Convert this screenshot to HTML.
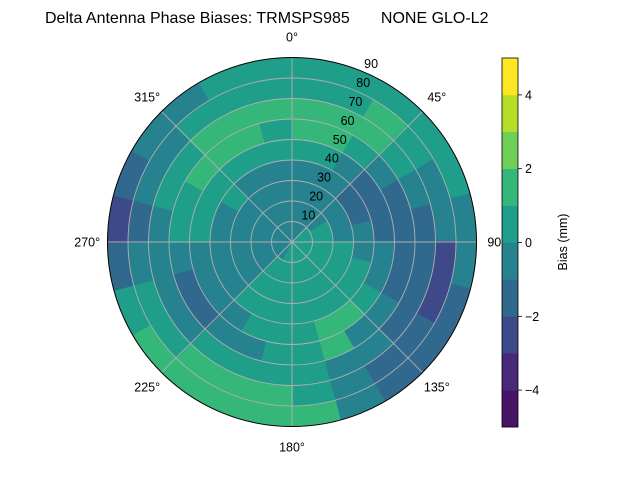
<!DOCTYPE html>
<html><head><meta charset="utf-8"><style>
body{margin:0;background:#fff;}
svg{font-family:"Liberation Sans","DejaVu Sans",sans-serif;}
</style></head><body>
<svg id="chart" width="640" height="480" viewBox="0 0 640 480">
<text x="45" y="23" font-size="16" fill="#000" xml:space="preserve">Delta Antenna Phase Biases: TRMSPS985       NONE GLO-L2</text>
<g id="cells"></g>
<g id="grid"></g>
<circle cx="292" cy="242" r="184.5" fill="none" stroke="#000" stroke-width="1"/>
<g id="labels"></g>
<g id="cbar"></g>
<text transform="translate(567,242) rotate(-90)" text-anchor="middle" font-size="12.5">Bias (mm)</text>
</svg>
<script>
const azCenters=[7.5,22.5,37.5,52.5,67.5,82.5,97.5,112.5,127.5,142.5,157.5,172.5,187.5,202.5,217.5,232.5,247.5,262.5,277.5,292.5,307.5,322.5,337.5,352.5];
const ringCenters=[5,15,25,35,45,55,65,75,85];
const biasGrid=[
[-0.5,-0.5,-0.5,-0.5,0.5,1.5,1.5,0.5,0.5],
[-0.5,-0.5,-0.5,-0.5,0.5,1.5,1.5,0.5,0.5],
[-0.5,-0.5,-0.5,-0.5,-0.5,0.5,1.5,1.5,0.5],
[0.5,-0.5,-0.5,-1.5,-1.5,-0.5,0.5,0.5,0.5],
[0.5,0.5,-0.5,-1.5,-1.5,-1.5,-0.5,-0.5,0.5],
[0.5,0.5,-0.5,-0.5,-1.5,-1.5,-1.5,-0.5,-0.5],
[0.5,0.5,0.5,-0.5,-0.5,-1.5,-1.5,-2.5,-0.5],
[0.5,0.5,0.5,0.5,-0.5,-1.5,-1.5,-2.5,-1.5],
[0.5,0.5,0.5,0.5,0.5,-0.5,-1.5,-1.5,-1.5],
[0.5,0.5,0.5,0.5,1.5,-0.5,-0.5,-1.5,-1.5],
[0.5,0.5,0.5,0.5,1.5,1.5,-0.5,-0.5,-0.5],
[0.5,0.5,0.5,0.5,0.5,0.5,0.5,0.5,1.5],
[0.5,0.5,0.5,0.5,0.5,0.5,0.5,1.5,1.5],
[0.5,0.5,0.5,0.5,0.5,-0.5,0.5,1.5,1.5],
[-0.5,0.5,0.5,0.5,-0.5,-0.5,0.5,1.5,1.5],
[-0.5,-0.5,-0.5,-0.5,-0.5,-1.5,-0.5,0.5,1.5],
[-0.5,-0.5,-0.5,-0.5,-0.5,-1.5,-0.5,0.5,0.5],
[-0.5,-0.5,-0.5,-0.5,-0.5,-0.5,-0.5,-0.5,-1.5],
[-0.5,-0.5,-0.5,-0.5,0.5,0.5,-0.5,-1.5,-2.5],
[-0.5,-0.5,-0.5,-0.5,0.5,0.5,0.5,-0.5,-1.5],
[-0.5,-0.5,-0.5,0.5,0.5,1.5,0.5,-0.5,-0.5],
[-0.5,-0.5,-0.5,-0.5,0.5,1.5,1.5,0.5,-0.5],
[-0.5,-0.5,-0.5,-0.5,0.5,1.5,1.5,0.5,0.5],
[-0.5,-0.5,-0.5,-0.5,0.5,0.5,1.5,0.5,0.5]
];
const levels=[-5,-4,-3,-2,-1,0,1,2,3,4,5];
const levelColors=["#471365","#482878","#3e4989","#31688e","#26828e","#1f9e89","#35b779","#6ece58","#b5de2b","#fde725"];
const cbTicks=[-4,-2,0,2,4];
const rTicks=[10,20,30,40,50,60,70,80,90];
const azTicks=[0,45,90,135,180,225,270,315];

const NS="http://www.w3.org/2000/svg";
const CX=292,CY=242,R=184.5,RMAX=90;
function rScale(v){return v/RMAX*R;}
function pt(az,r){const a=az*Math.PI/180;return [CX+rScale(r)*Math.sin(a),CY-rScale(r)*Math.cos(a)];}
function colorFor(v){for(let i=0;i<levels.length-1;i++){if(v>=levels[i]&&v<levels[i+1])return levelColors[i];}return levelColors[levelColors.length-1];}
function mk(tag,attrs,parent){const e=document.createElementNS(NS,tag);for(const k in attrs)e.setAttribute(k,attrs[k]);parent.appendChild(e);return e;}

const cells=document.getElementById('cells');
const azStep=360/azCenters.length, rStep=RMAX/ringCenters.length;
azCenters.forEach((az,i)=>{ringCenters.forEach((rc,j)=>{
  const a0=az-azStep/2-0.3,a1=az+azStep/2+0.3,r0=Math.max(0,rc-rStep/2),r1=rc+rStep/2;
  const p1=pt(a0,r0),p2=pt(a1,r0),p3=pt(a1,r1),p4=pt(a0,r1);
  const d=`M${p1} A${rScale(r0)},${rScale(r0)} 0 0 1 ${p2} L${p3} A${rScale(r1)},${rScale(r1)} 0 0 0 ${p4} Z`;
  const el=mk('path',{d:d,fill:colorFor(biasGrid[i][j]),stroke:colorFor(biasGrid[i][j]),'stroke-width':0.6},cells);
  
  
});});

const grid=document.getElementById('grid');
rTicks.forEach(v=>{
  const c=mk('circle',{cx:CX,cy:CY,r:rScale(v),fill:'none',stroke:'#b0b0b0','stroke-width':0.9},grid);
  
  
});
azTicks.forEach(a=>{
  const p=pt(a,RMAX);
  const l=mk('line',{x1:CX,y1:CY,x2:p[0],y2:p[1],stroke:'#b0b0b0','stroke-width':0.9},grid);
  
  
});

const labels=document.getElementById('labels');
azTicks.forEach(a=>{
  const p=pt(a,RMAX*1.11);
  const t=mk('text',{x:p[0],y:p[1]+4.5,'text-anchor':'middle','font-size':12.5},labels);
  t.textContent=a+'°';
  
  
});
rTicks.forEach(v=>{
  const p=pt(22.5,v);
  const t=mk('text',{x:p[0]+8.5,y:p[1]-8+4.5,'text-anchor':'middle','font-size':12.5},labels);
  t.textContent=v;
  
  
});

const cb=document.getElementById('cbar');
const CBX=502,CBW=16,CBT=58,CBB=427;
function cbY(v){return CBB-(v-levels[0])/(levels[levels.length-1]-levels[0])*(CBB-CBT);}
levelColors.forEach((c,i)=>{
  const y0=cbY(levels[i+1]),y1=cbY(levels[i]);
  const r=mk('rect',{x:CBX,y:y0,width:CBW,height:y1-y0+0.3,fill:c},cb);
  
  
});
const fr=mk('rect',{x:CBX,y:CBT,width:CBW,height:CBB-CBT,fill:'none',stroke:'#000','stroke-width':0.8},cb);


cbTicks.forEach(v=>{
  const y=cbY(v);
  const tk=mk('line',{x1:CBX+CBW,y1:y,x2:CBX+CBW+4,y2:y,stroke:'#000','stroke-width':0.8},cb);
  
  
  const t=mk('text',{x:CBX+CBW+7,y:y+4.5,'font-size':12.5},cb);
  t.textContent=v<0?'\u2212'+Math.abs(v):String(v);
  
  
});
</script>
</body></html>
